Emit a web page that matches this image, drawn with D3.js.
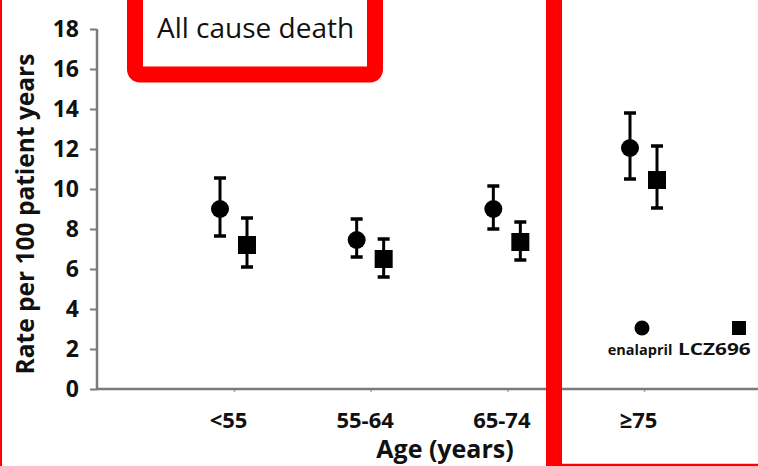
<!DOCTYPE html>
<html>
<head>
<meta charset="utf-8">
<script src="https://cdn.jsdelivr.net/npm/d3@7"></script>
<style>
  body { margin: 0; background: #fff; }
  svg { display: block; }
  text { font-family: "Open Sans", "Noto Sans", sans-serif; fill: #111; }
</style>
</head>
<body>
<svg id="chart" width="758" height="466"></svg>
<script>
      // data
      var categories = ["<55", "55-64", "65-74", "≥75"];
      var enalapril   = [9.0, 7.45, 9.0, 12.05];
      var enalaprilLo = [7.65, 6.6, 8.0, 10.5];
      var enalaprilHi = [10.55, 8.5, 10.15, 13.8];
      var lcz         = [7.2, 6.5, 7.35, 10.45];
      var lczLo       = [6.1, 5.6, 6.45, 9.05];
      var lczHi       = [8.55, 7.5, 8.35, 12.15];
      var yTicks      = [0, 2, 4, 6, 8, 10, 12, 14, 16, 18];
      var seriesNames = ["enalapril", "LCZ696"];

      var svg = d3.select("#chart");
      var axisColor = "#7a7a7a";

      var y = d3.scaleLinear().domain([0, 18]).range([389, 29]);
      var x = d3.scalePoint().domain(categories).range([234, 644]);
      var axisLeft = 97, axisRight = 758;

      // y axis
      var ya = svg.append("g").attr("transform", "translate(" + axisLeft + ",0)")
        .call(d3.axisLeft(y).tickValues(yTicks).tickSize(7).tickPadding(11));
      ya.select(".domain").remove();
      ya.selectAll(".tick line").attr("stroke", axisColor).attr("stroke-width", 2);
      ya.selectAll(".tick text").style("font-size", "23px").style("font-weight", "bold")
        .style("font-family", "'Open Sans', sans-serif").attr("fill", "#111");
      svg.append("line").attr("x1", axisLeft).attr("x2", axisLeft)
        .attr("y1", y(18)).attr("y2", y(0) + 1)
        .attr("stroke", axisColor).attr("stroke-width", 2.5);

      // x axis
      var xa = svg.append("g").attr("transform", "translate(0," + y(0) + ")")
        .call(d3.axisBottom(x).tickSize(3).tickPadding(20));
      xa.select(".domain").remove();
      xa.selectAll(".tick line").attr("stroke", "#aaa").attr("stroke-width", 1.5);
      xa.selectAll(".tick text").style("font-size", "22px").style("font-weight", "bold")
        .style("font-family", "'Open Sans', sans-serif").attr("fill", "#111")
        .attr("dx", -6);
      svg.append("line").attr("x1", axisLeft - 1).attr("x2", axisRight)
        .attr("y1", y(0)).attr("y2", y(0))
        .attr("stroke", axisColor).attr("stroke-width", 2.5);

      // axis titles
      svg.append("text").attr("x", 445).attr("y", 458).attr("text-anchor", "middle")
        .style("font-size", "25px").style("font-weight", "bold").text("Age (years)");
      svg.append("text").attr("transform", "translate(34,214) rotate(-90)")
        .attr("text-anchor", "middle")
        .style("font-size", "24.5px").style("font-weight", "bold").text("Rate per 100 patient years");

      // error bars and markers
      function drawSeries(vals, lo, hi, dx, shape) {
        var g = svg.append("g");
        categories.forEach(function(c, i) {
          var cx = x(c) + dx;
          g.append("line").attr("x1", cx).attr("x2", cx)
            .attr("y1", y(hi[i])).attr("y2", y(lo[i]))
            .attr("stroke", "#000").attr("stroke-width", 3);
          [hi[i], lo[i]].forEach(function(v) {
            g.append("line").attr("x1", cx - 6).attr("x2", cx + 6)
              .attr("y1", y(v)).attr("y2", y(v))
              .attr("stroke", "#000").attr("stroke-width", 3.5);
          });
          if (shape == "circle") {
            g.append("circle").attr("cx", cx).attr("cy", y(vals[i])).attr("r", 9).attr("fill", "#000");
          } else {
            g.append("rect").attr("x", cx - 9).attr("y", y(vals[i]) - 9)
              .attr("width", 18).attr("height", 18).attr("fill", "#000");
          }
        });
      }
      drawSeries(enalapril, enalaprilLo, enalaprilHi, -14, "circle");
      drawSeries(lcz, lczLo, lczHi, 13, "square");

      // legend
      var lx = x("≥75");
      svg.append("circle").attr("cx", lx - 2).attr("cy", 328).attr("r", 7.5).attr("fill", "#000");
      svg.append("rect").attr("x", lx + 88).attr("y", 321).attr("width", 14).attr("height", 14).attr("fill", "#000");
      svg.append("text").attr("x", lx - 4).attr("y", 355).attr("text-anchor", "middle")
        .style("font-size", "14.5px").style("font-weight", "bold").text(seriesNames[0]);
      // second legend label is drawn wide, as in the picture, but kept inside the frame
      svg.append("text").attr("transform", "translate(" + (lx + 34) + ",355) scale(1.3,1)")
        .style("font-size", "16px").style("font-weight", "bold").text(seriesNames[1]);

      // red highlight boxes
      var red = "#ff0000";
      svg.append("rect").attr("x", 135).attr("y", -30).attr("width", 240).attr("height", 104.5)
        .attr("rx", 5).attr("fill", "#fff").attr("stroke", red).attr("stroke-width", 16);
      svg.append("text").attr("x", 157).attr("y", 38).style("font-size", "28px")
        .attr("fill", "#222").text("All cause death");
      svg.append("line").attr("x1", 554).attr("x2", 554).attr("y1", 0).attr("y2", 466)
        .attr("stroke", red).attr("stroke-width", 16);
      svg.append("line").attr("x1", 546).attr("x2", 758).attr("y1", 465).attr("y2", 465)
        .attr("stroke", red).attr("stroke-width", 2.5);
      svg.append("line").attr("x1", 1).attr("x2", 1).attr("y1", 0).attr("y2", 466)
        .attr("stroke", red).attr("stroke-width", 2);
</script>
</body>
</html>
